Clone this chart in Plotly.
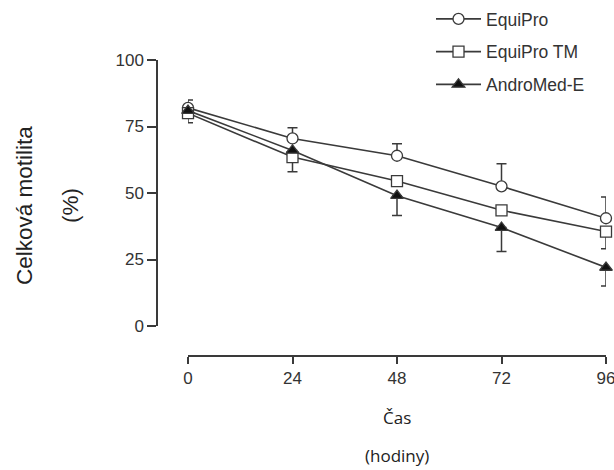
import plotly.graph_objects as go

hours = [0, 24, 48, 72, 96]
x_ticks = [0, 24, 48, 72, 96]
y_ticks = [0, 25, 50, 75, 100]

equipro = [82, 70.5, 64, 52.5, 40.5]
equipro_err_up = [3, 4, 4.5, 8.5, 8]
equipro_err_down = [0, 0, 0, 0, 0]

equipro_tm = [80, 63.5, 54.5, 43.5, 35.5]
equipro_tm_err_up = [0, 0, None, None, 0]
equipro_tm_err_down = [3.6, 5.5, None, None, 6.5]

andromed = [81, 66, 49, 37, 22]
andromed_err_up = [None, None, 0, 0, 0]
andromed_err_down = [None, None, 7.5, 9, 7]

names = ["EquiPro", "EquiPro TM", "AndroMed-E"]

INK = "#3a3a3a"
TICKFONT = dict(family="Liberation Sans, Arial, sans-serif", size=17, color="#333333")
LEGFONT = dict(family="Liberation Sans, Arial, sans-serif", size=17.5, color="#333333")
TITLEFONT = dict(family="Open Sans, sans-serif", size=17, color="#222222")
YTITLEFONT = dict(family="Liberation Sans, Arial, sans-serif", size=22.5, color="#222222")

fig = go.Figure()

series = [
    (names[0], equipro, equipro_err_up, equipro_err_down, "circle", "white"),
    (names[1], equipro_tm, equipro_tm_err_up, equipro_tm_err_down, "square", "white"),
    (names[2], andromed, andromed_err_up, andromed_err_down, "triangle-up", "#111111"),
]

for i, (nm, vals, eu, ed, sym, fill) in enumerate(series):
    fig.add_trace(go.Scatter(
        x=hours, y=vals, name=nm, mode="lines+markers",
        legendgroup=f"g{i}",
        line=dict(color=INK, width=1.6),
        marker=dict(symbol=sym, size=11, color=fill,
                    line=dict(color=INK, width=1.3)),
        error_y=dict(type="data", symmetric=False, array=eu, arrayminus=ed,
                     color=INK, thickness=1.5, width=5),
        cliponaxis=False,
    ))

fig.update_layout(
    width=614, height=470,
    margin=dict(l=157, r=8, t=60, b=114, autoexpand=False),
    paper_bgcolor="white", plot_bgcolor="white",
    showlegend=True,
    legend=dict(x=(431 - 157) / 449, y=(356 - 1) / 296, xanchor="left", yanchor="top",
                font=LEGFONT, tracegroupgap=7, itemwidth=45,
                bgcolor="rgba(0,0,0,0)"),
    xaxis=dict(domain=[31 / 449, 1], range=[0, 96], anchor="free", position=0,
               tickvals=x_ticks, ticktext=[str(v) for v in x_ticks],
               ticks="outside", ticklen=7, tickwidth=1.5, tickcolor=INK,
               showline=True, linecolor=INK, linewidth=1.5,
               showgrid=False, zeroline=False, tickfont=TICKFONT,
               ticklabeloverflow="allow"),
    yaxis=dict(domain=[30 / 296, 1], range=[0, 100], anchor="free", position=0,
               tickvals=y_ticks, ticktext=[str(v) for v in y_ticks],
               ticks="outside", ticklen=9, tickwidth=1.5, tickcolor=INK,
               showline=True, linecolor=INK, linewidth=1.5,
               showgrid=False, zeroline=False, tickfont=TICKFONT),
    annotations=[
        dict(text="Celková motilita", xref="paper", yref="paper",
             x=(24 - 157) / 449, y=(356 - 206) / 296, textangle=-90,
             showarrow=False, font=YTITLEFONT,
             xanchor="center", yanchor="middle"),
        dict(text="(%)", xref="paper", yref="paper",
             x=(70 - 157) / 449, y=(356 - 206) / 296, textangle=-90,
             showarrow=False, font=YTITLEFONT,
             xanchor="center", yanchor="middle"),
        dict(text="Čas", xref="paper", yref="paper",
             x=(397 - 157) / 449, y=(356 - 417) / 296,
             showarrow=False, font=TITLEFONT, xanchor="center", yanchor="middle"),
        dict(text="(hodiny)", xref="paper", yref="paper",
             x=(397 - 157) / 449, y=(356 - 456) / 296,
             showarrow=False, font=TITLEFONT, xanchor="center", yanchor="middle"),
    ],
)

fig.write_html("out.html", config={"displayModeBar": False},
               post_script="document.body.style.margin='0';")
